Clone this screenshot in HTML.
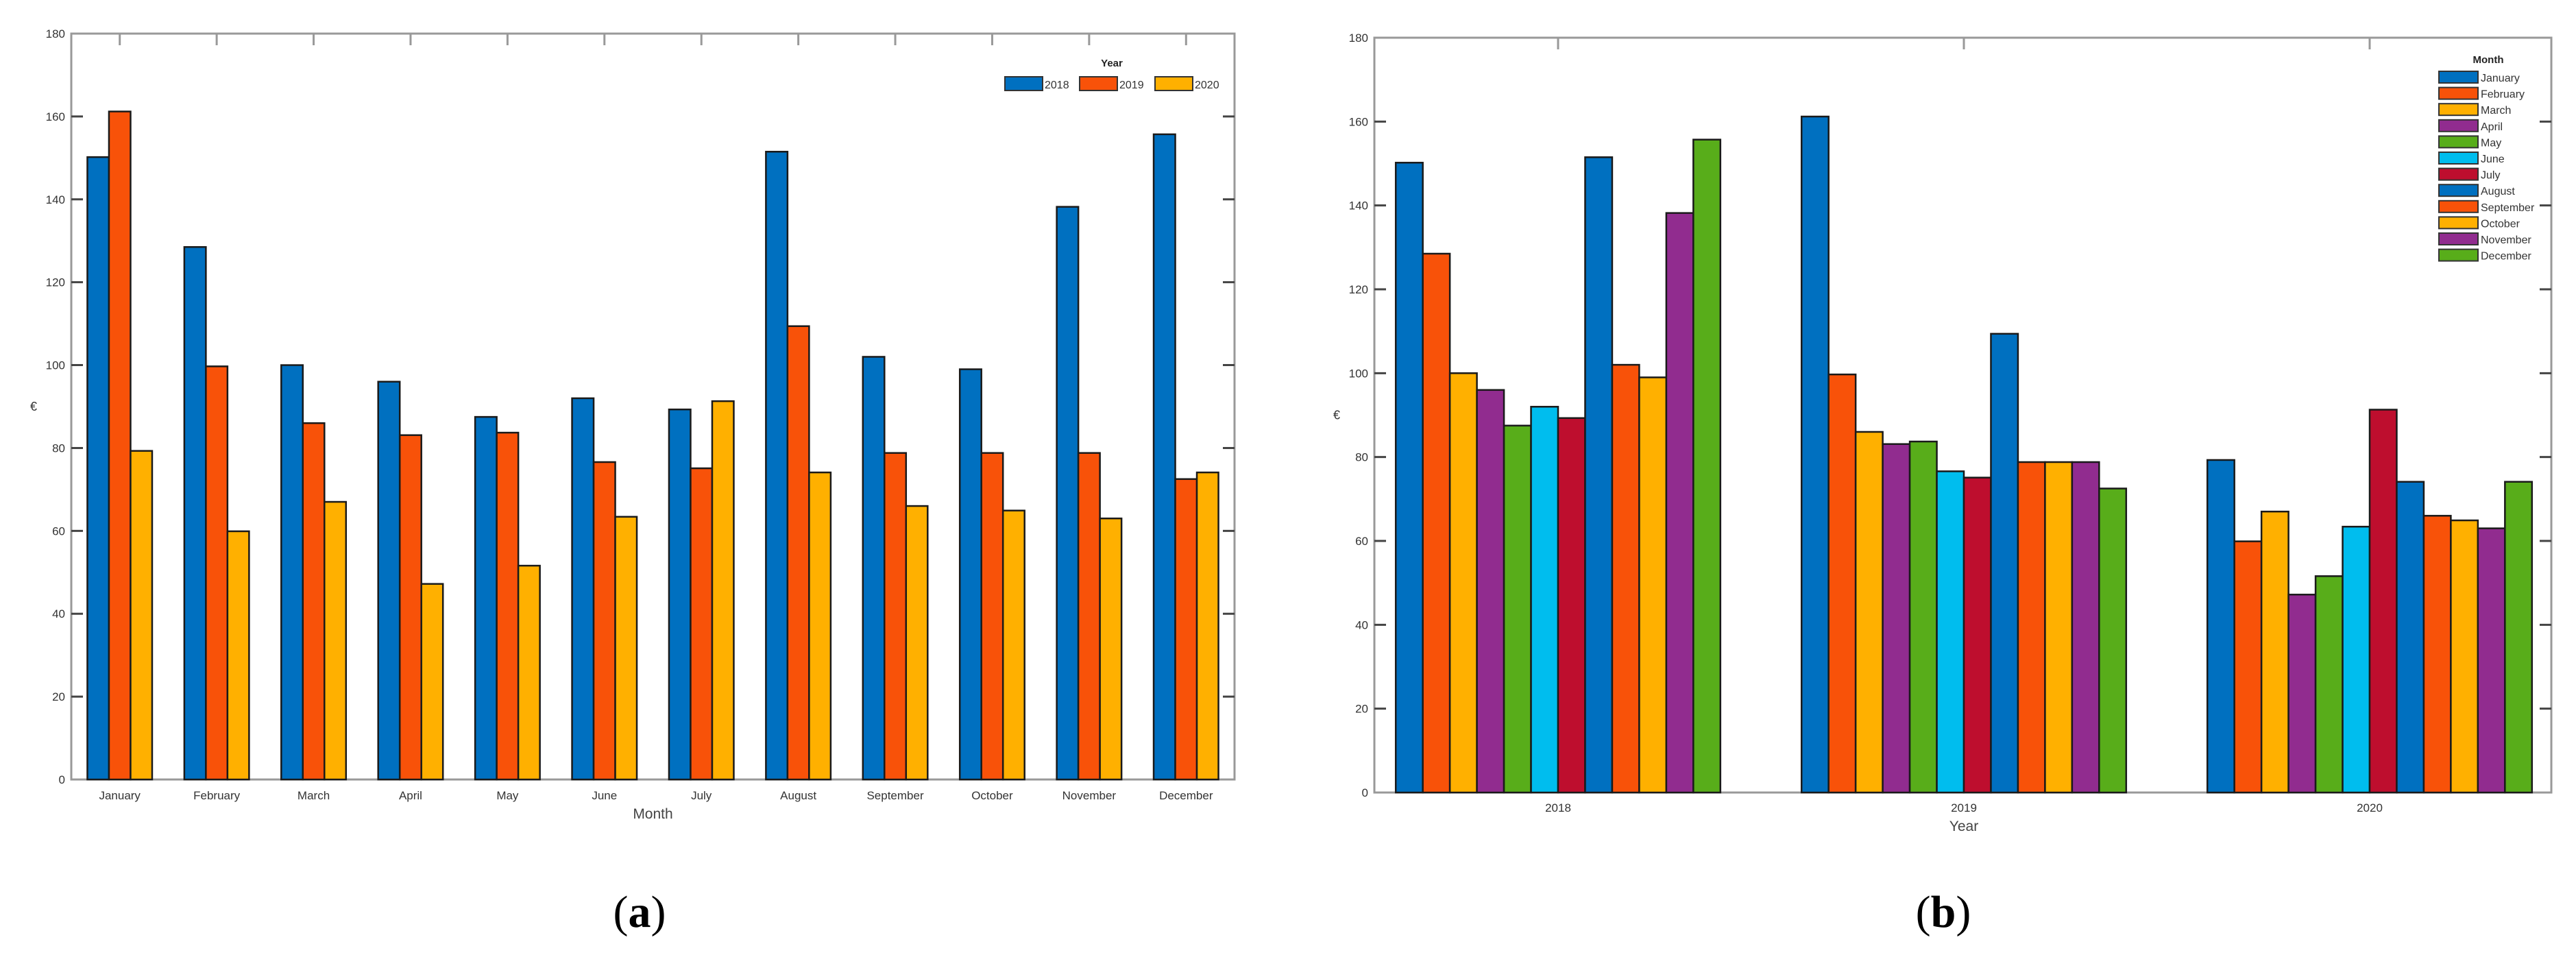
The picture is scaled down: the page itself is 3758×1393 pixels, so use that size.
<!DOCTYPE html>
<html><head><meta charset="utf-8"><style>
html,body{margin:0;padding:0;background:#fff;}
svg{display:block;font-family:"Liberation Sans",Arial,sans-serif;}
</style></head><body>
<svg id="svg" width="3758" height="1393" viewBox="0 0 3758 1393" xmlns="http://www.w3.org/2000/svg">
<g id="chartA"></g>
<g id="chartB"></g>
<text x="933" y="1352" font-family="Liberation Serif,serif" font-size="66" text-anchor="middle">(<tspan font-weight="bold">a</tspan>)</text>
<text x="2835" y="1352" font-family="Liberation Serif,serif" font-size="66" text-anchor="middle">(<tspan font-weight="bold">b</tspan>)</text>
</svg>
<script>
const months = ["January","February","March","April","May","June","July","August","September","October","November","December"];
const years = ["2018","2019","2020"];
const values2018 = [150.2,128.5,100,96,87.5,92,89.3,151.5,102,99,138.2,155.7];
const values2019 = [161.2,99.7,86,83.1,83.7,76.6,75.1,109.4,78.8,78.8,78.8,72.5];
const values2020 = [79.3,59.9,67,47.2,51.6,63.4,91.3,74.1,66,64.9,63,74.1];
const yTicks = [0,20,40,60,80,100,120,140,160,180];
const yearColors = ["#0070C0","#F85209","#FFB000"];
const monthColors = ["#0070C0","#F85209","#FFB000","#912C8F","#58AD1A","#00BDEE","#BE0E2E","#0070C0","#F85209","#FFB000","#912C8F","#58AD1A"];
const series = [values2018, values2019, values2020];
const NS = "http://www.w3.org/2000/svg";
function mk(parent, tag, attrs, text){
  const e = document.createElementNS(NS, tag);
  for (const k in attrs) e.setAttribute(k, attrs[k]);
  if (text !== undefined) e.textContent = text;
  parent.appendChild(e); return e;
}
function drawFrame(g, L, R, T, B, yScale, prefix){
  const frame = mk(g,'rect',{x:L,y:T,width:R-L,height:B-T,fill:'none',stroke:'#999','stroke-width':3});
  
  
  yTicks.forEach(v=>{
    const y = yScale(v);
    if (v>0 && v<180){
      const t1 = mk(g,'line',{x1:L,x2:L+17,y1:y,y2:y,stroke:'#444','stroke-width':3});
      
      
      const t2 = mk(g,'line',{x1:R-17,x2:R,y1:y,y2:y,stroke:'#444','stroke-width':3});
      
      
    }
    const lb = mk(g,'text',{x:L-9,y:y+6,'font-size':17,'text-anchor':'end',fill:'#333'}, String(v));
    
    
  });
  const yl = mk(g,'text',{x:L-55,y:(T+B)/2+6,'font-size':18,'text-anchor':'middle',fill:'#333'}, '€');
  
  
}
function bar(g, x, w, y0, y1, color, name){
  const r = mk(g,'rect',{x:x,y:y1,width:w,height:y0-y1,fill:color,stroke:'#1a1a1a','stroke-width':2.5});
  
  
}
// Chart A
(function(){
  const g = document.getElementById('chartA');
  const L=104,R=1801,T=49,B=1137;
  const yScale = v => B - (v/180)*(B-T);
  drawFrame(g,L,R,T,B,yScale,'chart-a');
  const band=(R-L)/months.length, bw=31.5;
  months.forEach((m,i)=>{
    const cx = L+band*(i+0.5);
    const tk = mk(g,'line',{x1:cx,x2:cx,y1:T,y2:T+17,stroke:'#999','stroke-width':3});
    
    
    series.forEach((s,j)=>{
      bar(g, cx+(j-1.5)*bw, bw, B, yScale(s[i]), yearColors[j], 'bar-'+m.toLowerCase()+'-'+years[j]);
    });
    const lb = mk(g,'text',{x:cx,y:1166,'font-size':17,'text-anchor':'middle',fill:'#333'}, m);
    
    
  });
  const xt = mk(g,'text',{x:(L+R)/2,y:1194,'font-size':21,'text-anchor':'middle',fill:'#444'},'Month');
  
  
  const lt = mk(g,'text',{x:1622,y:97,'font-size':15,'font-weight':'bold','text-anchor':'middle',fill:'#222'},'Year');
  
  
  const sx=[1466,1575,1685];
  years.forEach((yr,j)=>{
    const sw = mk(g,'rect',{x:sx[j],y:112,width:55,height:20,fill:yearColors[j],stroke:'#333','stroke-width':2});
    
    
    const t = mk(g,'text',{x:sx[j]+58,y:129,'font-size':16,fill:'#333'},yr);
    
    
  });
})();
// Chart B
(function(){
  const g = document.getElementById('chartB');
  const L=2005,R=3722,T=55,B=1156;
  const yScale = v => B - (v/180)*(B-T);
  const xPos = k => 2273 + k*592;
  drawFrame(g,L,R,T,B,yScale,'chart-b');
  const bw = 592*0.8/12;
  years.forEach((yr,j)=>{
    const cx = xPos(j);
    const tk = mk(g,'line',{x1:cx,x2:cx,y1:T,y2:T+17,stroke:'#999','stroke-width':3});
    
    
    months.forEach((m,i)=>{
      bar(g, cx+(i-6)*bw, bw, B, yScale(series[j][i]), monthColors[i], 'bar-'+yr+'-'+m.toLowerCase());
    });
    const lb = mk(g,'text',{x:cx,y:1184,'font-size':17,'text-anchor':'middle',fill:'#333'},yr);
    
    
  });
  const xt = mk(g,'text',{x:2865,y:1212,'font-size':21,'text-anchor':'middle',fill:'#444'},'Year');
  
  
  const lt = mk(g,'text',{x:3630,y:92,'font-size':15,'font-weight':'bold','text-anchor':'middle',fill:'#222'},'Month');
  
  
  months.forEach((m,i)=>{
    const y = 104 + i*23.6;
    const sw = mk(g,'rect',{x:3558,y:y,width:57,height:17,fill:monthColors[i],stroke:'#333','stroke-width':2});
    
    
    const t = mk(g,'text',{x:3619,y:y+15,'font-size':16,fill:'#333'},m);
    
    
  });
})();
</script>
</body></html>
